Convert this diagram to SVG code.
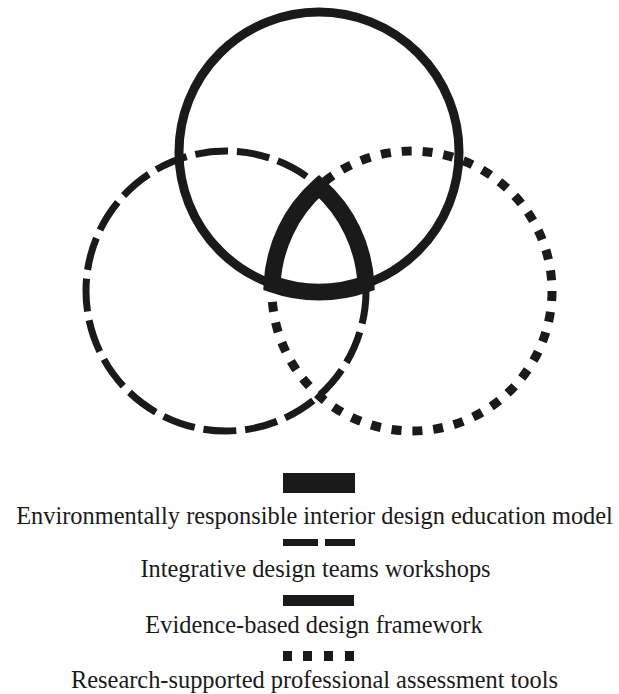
<svg xmlns="http://www.w3.org/2000/svg" width="619" height="694" viewBox="0 0 619 694">
  <style>
    .c { fill: none; stroke: #1a1a1a; }
    .solid { stroke-width: 9; }
    .dash { stroke-width: 7; stroke-dasharray: 33 8.9; }
    .dot { stroke-width: 9; stroke-dasharray: 10 10.94; }
    .tri { fill: none; stroke: #1a1a1a; stroke-width: 17; stroke-linejoin: miter; stroke-miterlimit: 10; }
    .mk { fill: #1a1a1a; }
    .lbl { font-size: 24.4px; fill: #1a1a1a; text-anchor: middle; }
  </style>
  <rect width="619" height="694" fill="#ffffff"/>
  <g id="circle-left">
    <circle class="c dash" cx="226" cy="291" r="140"/>
  </g>
  <g id="circle-right">
    <circle class="c dot" cx="412" cy="291" r="140"/>
  </g>
  <g id="circle-top">
    <circle class="c solid" cx="319" cy="152" r="140"/>
  </g>
  <g id="center-intersection">
    <path class="tri" d="M319,186.4 A140,140 0 0 0 272.1,284 A140,140 0 0 0 365.9,284 A140,140 0 0 0 319,186.4 Z"/>
  </g>
  <g id="legend" font-family="'Liberation Serif', 'DejaVu Serif', serif">
    <g id="legend-model">
      <rect class="mk" x="283" y="473" width="72" height="20"/>
      <text class="lbl" font-family="Liberation Serif, serif" x="314.5" y="524">Environmentally responsible interior design education model</text>
    </g>
    <g id="legend-workshops">
      <rect class="mk" x="283" y="539" width="35" height="7"/>
      <rect class="mk" x="325" y="539" width="30" height="7"/>
      <text class="lbl" font-family="Liberation Serif, serif" x="315.5" y="577">Integrative design teams workshops</text>
    </g>
    <g id="legend-framework">
      <rect class="mk" x="283" y="595" width="71" height="11"/>
      <text class="lbl" font-family="Liberation Serif, serif" x="314" y="633">Evidence-based design framework</text>
    </g>
    <g id="legend-tools">
      <rect class="mk" x="283" y="651" width="9" height="10"/>
      <rect class="mk" x="303" y="651" width="9" height="10"/>
      <rect class="mk" x="324" y="651" width="9" height="10"/>
      <rect class="mk" x="345" y="651" width="9" height="10"/>
      <text class="lbl" font-family="Liberation Serif, serif" x="314.5" y="688">Research-supported professional assessment tools</text>
    </g>
  </g>
</svg>
